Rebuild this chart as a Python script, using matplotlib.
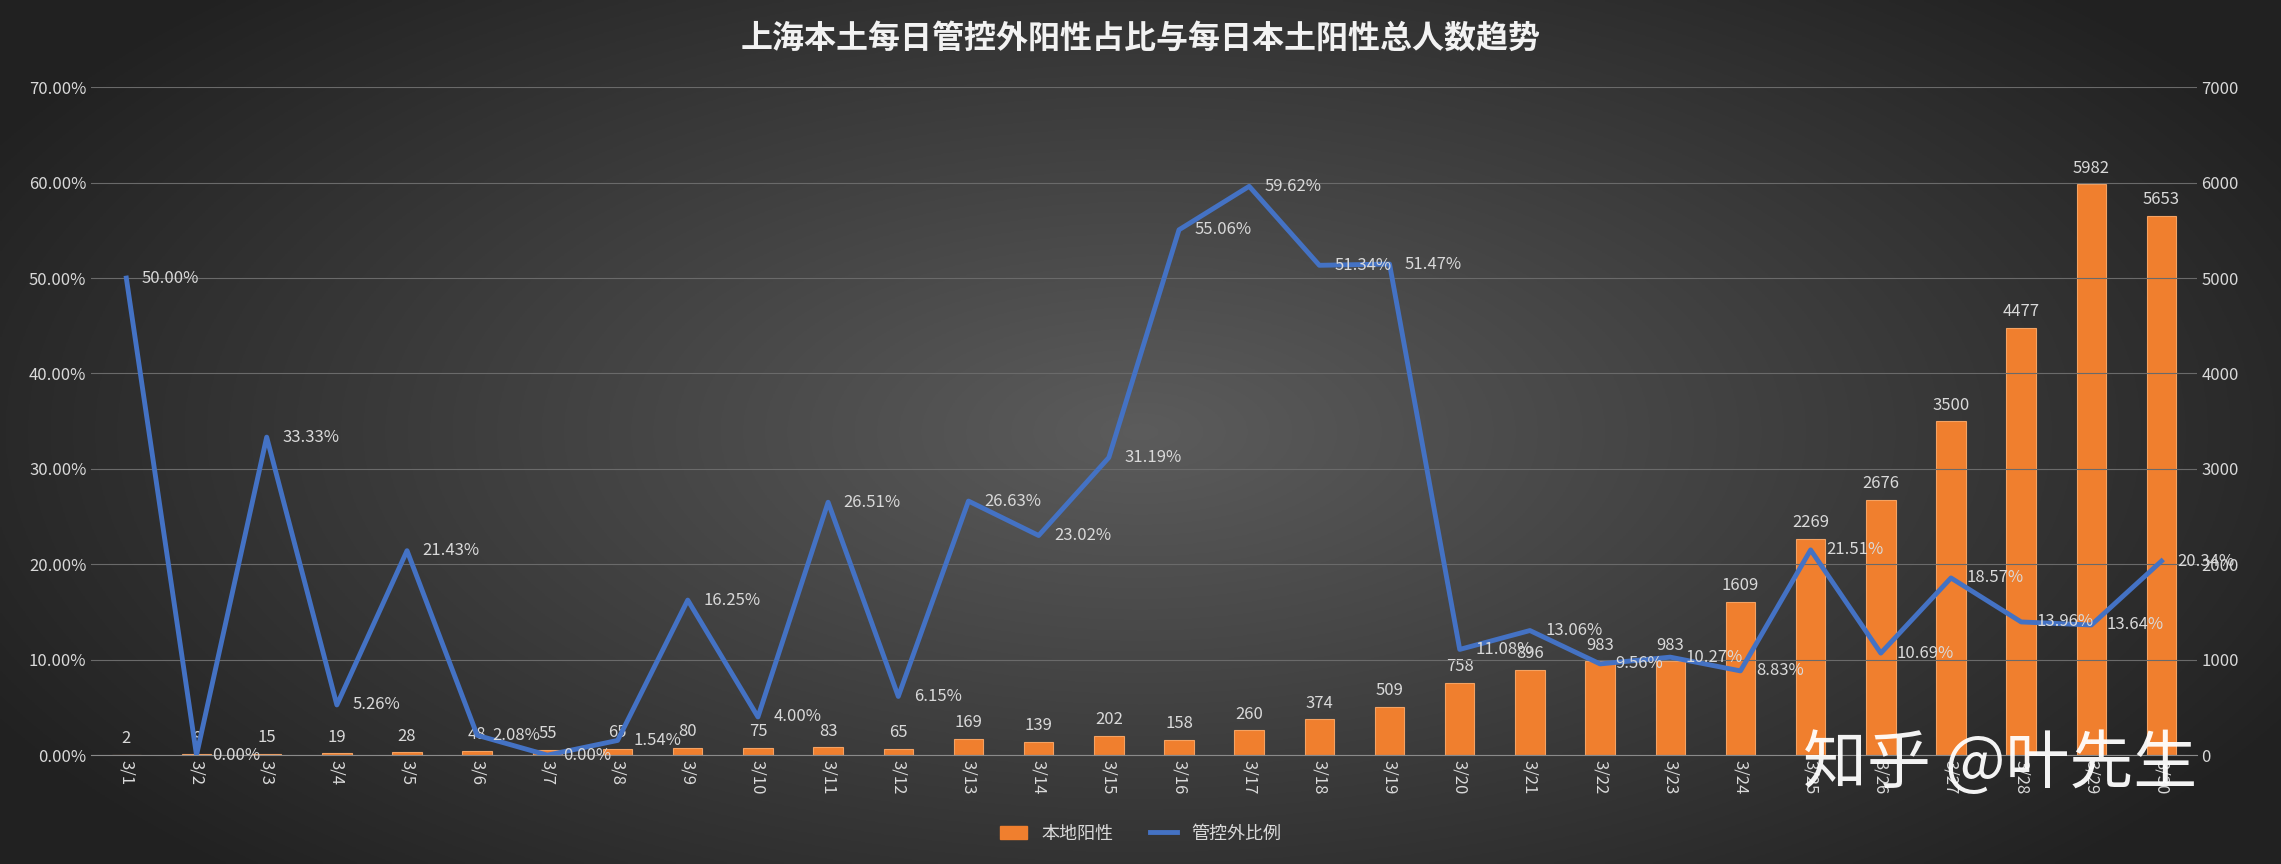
import matplotlib
matplotlib.use("Agg")
import matplotlib.pyplot as plt
from matplotlib import font_manager as fm
import numpy as np

cjk = [f.name for f in fm.fontManager.ttflist if 'CJK' in f.name]
pref = [n for n in cjk if 'SC' in n] or cjk
plt.rcParams['font.family'] = 'sans-serif'
plt.rcParams['font.sans-serif'] = pref[:1] + ['DejaVu Sans']

dates = [f"3/{i}" for i in range(1, 31)]
positives = [2,8,15,19,28,48,55,65,80,75,83,65,169,139,202,158,260,374,509,758,896,983,983,1609,2269,2676,3500,4477,5982,5653]
ratio = [50.00,0.00,33.33,5.26,21.43,2.08,0.00,1.54,16.25,4.00,26.51,6.15,26.63,23.02,31.19,55.06,59.62,51.34,51.47,11.08,13.06,9.56,10.27,8.83,21.51,10.69,18.57,13.96,13.64,20.34]

fig = plt.figure(figsize=(22.81, 8.64), dpi=100)
bg = fig.add_axes([0, 0, 1, 1])
yy, xx = np.mgrid[-1:1:300j, -1:1:800j]
r = np.sqrt(xx**2 + (yy*0.8)**2)
g = np.clip(0.36 - 0.2*r, 0.13, 0.4)
bg.imshow(np.dstack([g, g, g]), aspect='auto', extent=[0, 1, 0, 1])
bg.axis('off')

ax = fig.add_axes([0.040, 0.126, 0.923, 0.773])
ax.patch.set_alpha(0)
ax2 = ax.twinx()
x = np.arange(len(dates))
ax2.bar(x, positives, width=0.42, color='#F07F2E', edgecolor='#F4A262', linewidth=0.8, zorder=1)
for xi, v in zip(x, positives):
    ax2.text(xi, v + 80, str(v), ha='center', va='bottom', color='#D9D9D9', fontsize=12)
ax2.set_ylim(0, 7000)
ax2.set_yticks(range(0, 7001, 1000))

ax.set_zorder(ax2.get_zorder() + 1)
ax.plot(x, ratio, color='#4472C4', linewidth=3.5, zorder=3)
for xi, v in zip(x, ratio):
    ax.text(xi + 0.22, v, f"{v:.2f}%", ha='left', va='center', color='#D9D9D9', fontsize=12)
ax.set_ylim(0, 70)
ax.set_yticks(range(0, 71, 10))
ax.set_yticklabels([f"{v:.2f}%" for v in range(0, 71, 10)])
ax.set_xlim(-0.5, len(dates) - 0.5)
ax.set_xticks(x)
ax.set_xticklabels(dates, rotation=270)
ax.grid(axis='y', color='#6a6a6a', linewidth=0.8)
ax.set_axisbelow(True)
for a in (ax, ax2):
    for s in a.spines.values():
        s.set_visible(False)
    a.tick_params(colors='#D9D9D9', labelsize=12, length=0)
ax.spines['bottom'].set_visible(True)
ax.spines['bottom'].set_color('#8a8a8a')

fig.text(0.5, 0.955, "上海本土每日管控外阳性占比与每日本土阳性总人数趋势", ha='center', va='center',
         color='#F2F2F2', fontsize=23, fontweight='bold')

from matplotlib.patches import Patch
from matplotlib.lines import Line2D
handles = [Patch(color='#F07F2E', label='本地阳性'), Line2D([], [], color='#4472C4', lw=3.5, label='管控外比例')]
fig.legend(handles=handles, loc='center', bbox_to_anchor=(0.5, 0.035), ncol=2, frameon=False,
           labelcolor='#D9D9D9', fontsize=13, handlelength=1.5)

fig.text(0.877, 0.115, "知乎 @叶先生", ha='center', va='center', color='white', fontsize=46, alpha=0.95)

fig.savefig("out.png", dpi=100)
